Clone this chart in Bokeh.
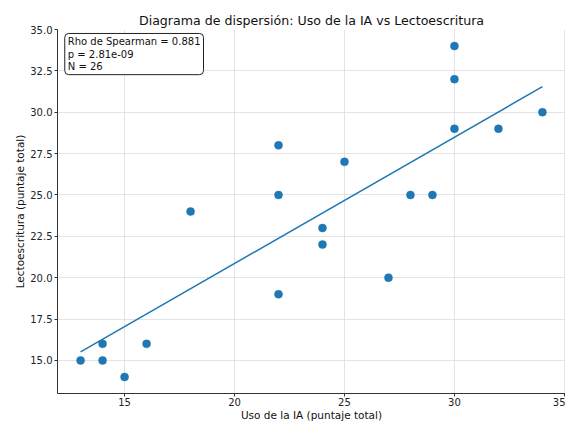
from bokeh.plotting import figure
from bokeh.models import Label, FixedTicker, Range1d
from bokeh.embed import file_html
from bokeh.resources import INLINE
import numpy as np

# ---- data ----
uso_ia = [13, 14, 14, 15, 16, 18, 22, 22, 22, 24, 24, 25, 27, 28, 29, 30, 30, 30, 32, 34]
lectoescritura = [15, 16, 15, 14, 16, 24, 28, 25, 19, 23, 22, 27, 20, 25, 25, 34, 32, 29, 29, 30]
fit_slope = 0.763
fit_intercept = 5.60
rho_text = "0.881"
p_text = "2.81e-09"
n_total = 26
x_ticks = [15, 20, 25, 30, 35]
y_ticks = [15.0, 17.5, 20.0, 22.5, 25.0, 27.5, 30.0, 32.5, 35.0]

FONT = "DejaVu Sans"
BLUE = "#1f77b4"

p = figure(width=565, height=423, output_backend="svg", toolbar_location=None,
           x_range=Range1d(11.95, 35.05), y_range=Range1d(13, 35),
           min_border_left=57, min_border_right=0, min_border_top=29, min_border_bottom=26,
           title="Diagrama de dispersión: Uso de la IA vs Lectoescritura")
p.outline_line_color = None
p.background_fill_color = "white"
p.border_fill_color = "white"

p.title.text_font = FONT
p.title.text_font_size = "12.6px"
p.title.text_font_style = "normal"
p.title.align = "center"
p.title.text_color = "#111111"
p.title.standoff = 4

for ax in (p.xaxis[0], p.yaxis[0]):
    ax.axis_line_color = "#333333"
    ax.major_tick_line_color = "#333333"
    ax.major_tick_in = 0
    ax.major_tick_out = 3
    ax.minor_tick_line_color = None
    ax.major_label_text_font = FONT
    ax.major_label_text_font_size = "10px"
    ax.major_label_text_color = "#222222"
    ax.axis_label_text_font = FONT
    ax.axis_label_text_font_size = "10.5px"
    ax.axis_label_text_font_style = "normal"
    ax.axis_label_text_color = "#111111"
    ax.major_label_standoff = 2
    ax.axis_label_standoff = 1
p.xaxis.major_label_standoff = 1
p.xaxis.axis_label_standoff = 0

p.xaxis.ticker = FixedTicker(ticks=x_ticks)
p.yaxis.ticker = FixedTicker(ticks=y_ticks)
p.xaxis.major_label_overrides = {t: str(t) for t in x_ticks}
p.yaxis.major_label_overrides = {t: f"{t:.1f}" for t in y_ticks}
p.xaxis.axis_label = "Uso de la IA (puntaje total)"
p.yaxis.axis_label = "Lectoescritura (puntaje total)"

p.xgrid.grid_line_color = "#dddddd"
p.ygrid.grid_line_color = "#dddddd"
p.xgrid.grid_line_width = 0.8
p.ygrid.grid_line_width = 0.8

p.scatter(uso_ia, lectoescritura, size=8, fill_color=BLUE, line_color=BLUE, line_width=0.5)

fx = np.array([min(uso_ia), max(uso_ia)], dtype=float)
fy = fit_slope * fx + fit_intercept
p.line(fx, fy, line_color=BLUE, line_width=1.5)

lbl = Label(x=12.28, y=34.76, x_units="data", y_units="data",
            text=f"Rho de Spearman = {rho_text}\np = {p_text}\nN = {n_total}",
            text_font=FONT, text_font_size="10px", text_color="#111111",
            text_align="left", text_baseline="top", text_line_height=1.1,
            background_fill_color="white", background_fill_alpha=1.0,
            border_line_color="#222222", border_line_width=1,
            padding=3, border_radius=4)
p.add_layout(lbl)

open("out.html", "w").write(file_html(p, INLINE))
